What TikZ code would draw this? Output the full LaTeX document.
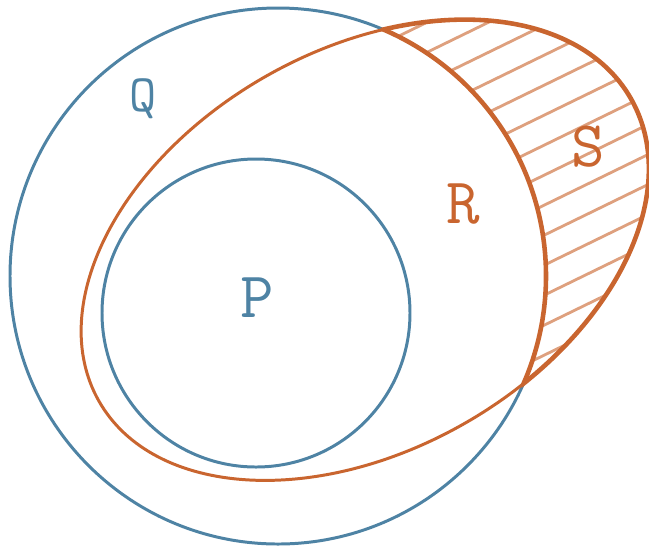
\documentclass[tikz,border=0pt]{standalone}
\usepackage{tikz}
\usetikzlibrary{calc}
\definecolor{vnBlue}{RGB}{78,131,164}
\definecolor{vnOrange}{RGB}{201,101,47}
\tikzset{
  vnSet/.style={draw=#1, line width=1.7pt},
  vnEdge/.style={draw=vnOrange, line width=2.6pt},
  vnHatch/.style={draw=vnOrange!62, line width=1.6pt},
  vnLabel/.style={text=#1, anchor=base, inner sep=0pt,
                  font=\ttfamily\fontsize{37}{40}\selectfont},
  vnRot/.style={rotate around={29.6:(cR)}}
}

\begin{document}
\begin{tikzpicture}[x=0.02cm,y=-0.02cm]
  \useasboundingbox (0,0) rectangle (649,549);
  \coordinate (cQ) at (278,276);
  \coordinate (cP) at (256,313);
  \coordinate (cR) at (365,250);

  % hatching of S
  \begin{scope}[even odd rule]
    \clip[vnRot] (cR) ellipse [x radius=306, y radius=200];
    \clip (0,0) rectangle (649,549) (cQ) circle [radius=268];
    \foreach \k in {-8,...,7}
      \draw[vnHatch] (200,{343+30*\k}) -- (800,{50.4+30*\k});
  \end{scope}

  \draw[vnSet=vnBlue] (cQ) circle [radius=268];
  \draw[vnSet=vnBlue] (cP) circle [radius=154];
  \draw[vnSet=vnOrange, vnRot] (cR) ellipse [x radius=306, y radius=200];

  % outline of S
  \begin{scope}
    \clip[vnRot] (cR) ellipse [x radius=306, y radius=200];
    \draw[vnEdge] (cQ) circle [radius=268];
  \end{scope}
  \begin{scope}[even odd rule]
    \clip (0,0) rectangle (649,549) (cQ) circle [radius=268];
    \draw[vnEdge, vnRot] (cR) ellipse [x radius=306, y radius=200];
  \end{scope}

  \node[vnLabel=vnBlue, font=\ttfamily\fontsize{30}{32}\selectfont] (labelQ) at (143,111) {Q};
  \node[vnLabel=vnBlue] (labelP) at (257,317) {P};
  \node[vnLabel=vnOrange] (labelR) at (463,223) {R};
  \node[vnLabel=vnOrange] (labelS) at (588,166) {S};
\end{tikzpicture}
\end{document}
